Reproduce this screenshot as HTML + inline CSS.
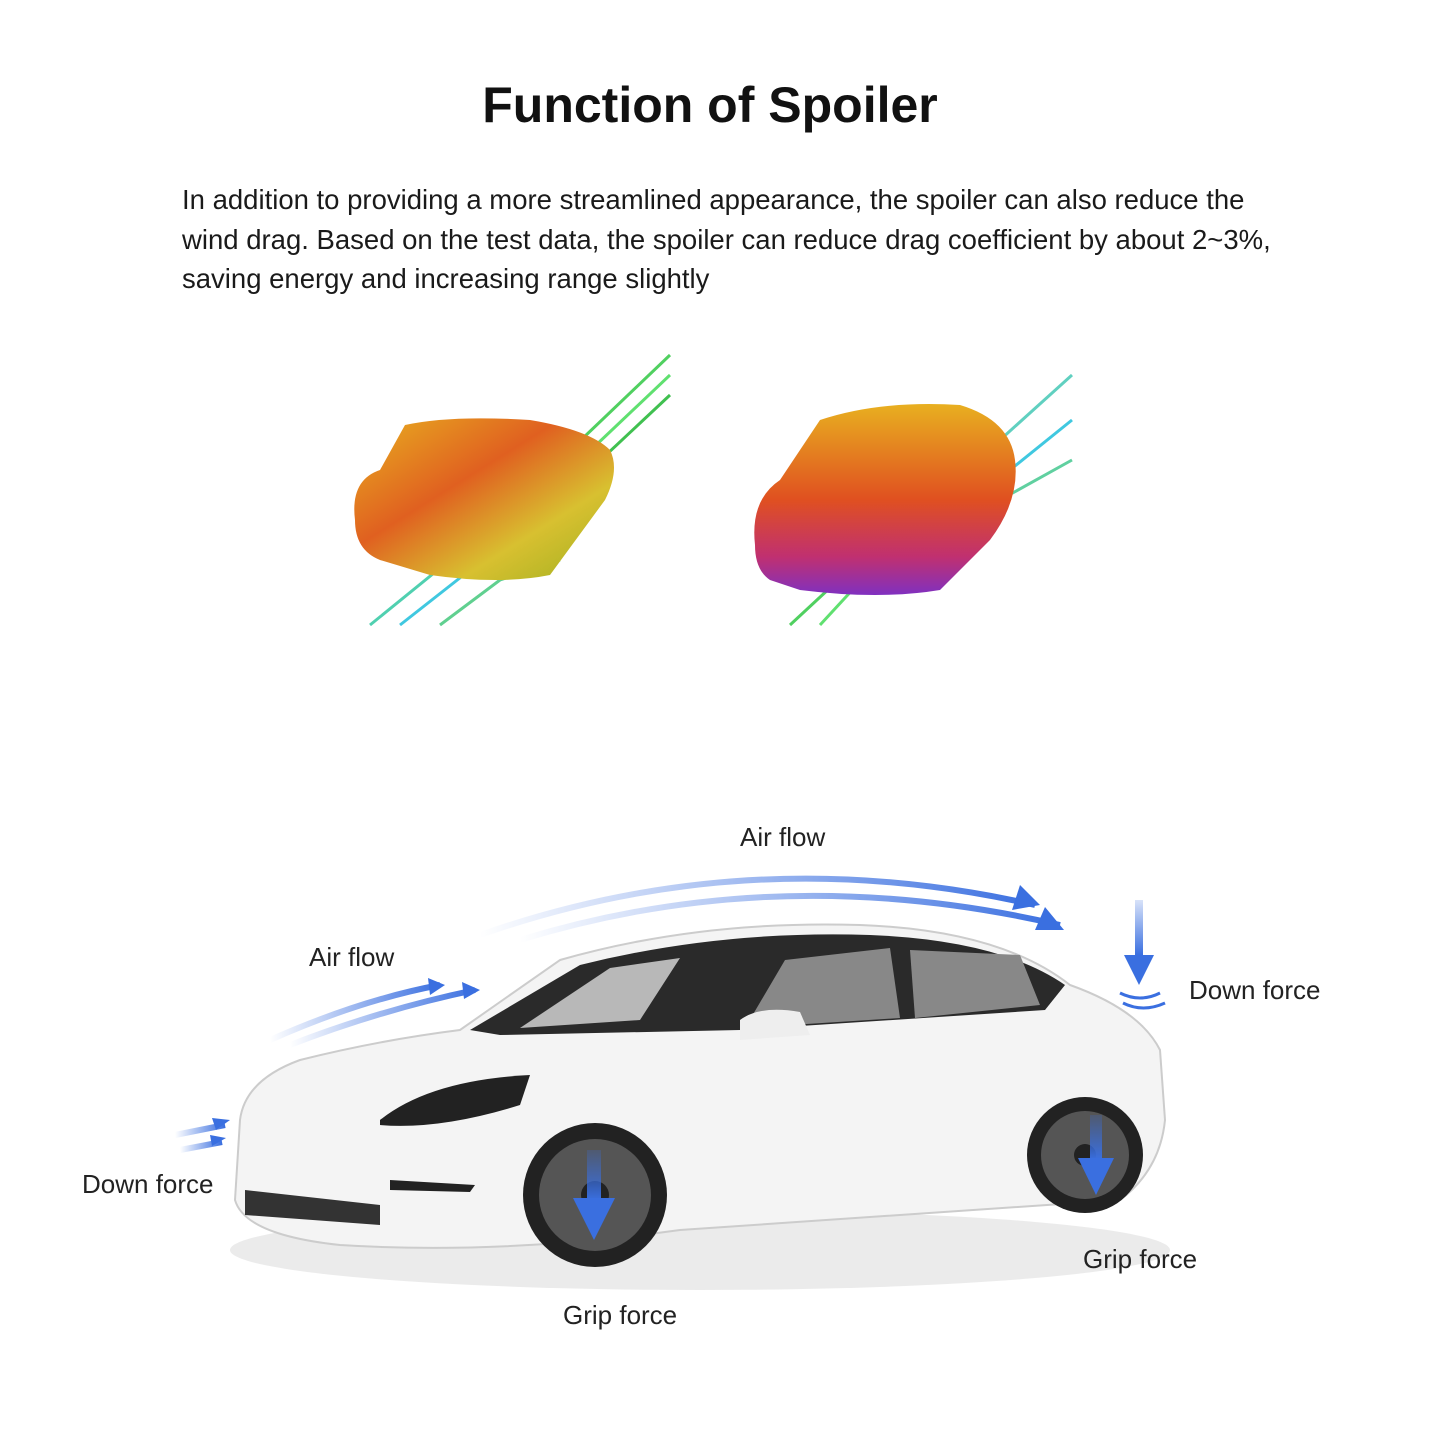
<!DOCTYPE html>
<html><head><meta charset="utf-8"><style>
body{margin:0;background:#fff;width:1445px;height:1445px;overflow:hidden;position:relative;font-family:"Liberation Sans",sans-serif;color:#111}
h1{position:absolute;top:76px;left:0;width:1420px;text-align:center;margin:0;font-size:50px;font-weight:bold}
p{position:absolute;top:180px;left:182px;margin:0;font-size:27.5px;line-height:39.5px;white-space:nowrap;color:#1a1a1a}
.l{position:absolute;font-size:26px;color:#222;white-space:nowrap}
svg{position:absolute;left:0;top:0}
</style></head><body>
<h1>Function of Spoiler</h1>
<p>In addition to providing a more streamlined appearance, the spoiler can also reduce the<br>wind drag. Based on the test data, the spoiler can reduce drag coefficient by about 2~3%,<br>saving energy and increasing range slightly</p>
<svg width="1445" height="1445" viewBox="0 0 1445 1445">
<defs>
<linearGradient id="cf" x1="0" y1="0" x2="1" y2="1"><stop offset="0" stop-color="#e8b020"/><stop offset=".4" stop-color="#e06020"/><stop offset=".7" stop-color="#d8c030"/><stop offset="1" stop-color="#a0b020"/></linearGradient>
<linearGradient id="cf2" x1="0" y1="0" x2="0" y2="1"><stop offset="0" stop-color="#e8b020"/><stop offset=".5" stop-color="#e05020"/><stop offset=".8" stop-color="#c03070"/><stop offset="1" stop-color="#8030c0"/></linearGradient>
<linearGradient id="ar" x1="0" y1="0" x2="1" y2="0"><stop offset="0" stop-color="#3a6fe0" stop-opacity="0"/><stop offset="1" stop-color="#3a6fe0"/></linearGradient>
<linearGradient id="ad" x1="0" y1="0" x2="0" y2="1"><stop offset="0" stop-color="#3a6fe0" stop-opacity=".2"/><stop offset="1" stop-color="#3a6fe0"/></linearGradient>
</defs>
<g stroke-width="3" fill="none">
<path d="M560 460 L670 355" stroke="#50d060"/><path d="M575 465 L670 375" stroke="#60e070"/><path d="M590 470 L670 395" stroke="#40c050"/>
<path d="M370 625 L450 560 L520 540" stroke="#50d0b0"/><path d="M400 625 L470 570 L540 555" stroke="#40c8e0"/><path d="M440 625 L500 580 L560 560" stroke="#60d090"/>
<path d="M790 625 L860 560" stroke="#50d060"/><path d="M820 625 L880 560" stroke="#60e070"/>
<path d="M1000 440 L1072 375" stroke="#60d0c0"/><path d="M1010 470 L1072 420" stroke="#40c8e0"/><path d="M1000 500 L1072 460" stroke="#60d0a0"/>
</g>
<path d="M355 520 Q350 480 380 470 L405 425 Q450 415 530 420 Q590 430 610 450 Q620 470 605 500 L550 575 Q500 585 430 575 L380 560 Q355 550 355 520Z" fill="url(#cf)"/>
<path d="M755 545 Q750 500 780 480 L820 420 Q880 400 960 405 Q1010 420 1015 460 Q1020 500 990 540 L940 590 Q880 600 800 590 L770 580 Q755 570 755 545Z" fill="url(#cf2)"/>
<g fill="none" stroke="url(#ar)" stroke-width="6">
<path d="M480 935 Q750 840 1035 905"/><path d="M520 940 Q780 860 1060 925"/>
<path d="M270 1040 Q360 1000 440 985"/><path d="M290 1045 Q380 1010 475 990"/>
<path d="M175 1135 L225 1125"/><path d="M180 1150 L222 1142"/>
</g>
<g fill="#3a6fe0">
<path d="M1020 885 L1040 905 L1012 910Z"/><path d="M1045 907 L1064 930 L1035 930Z"/>
<path d="M428 978 L445 985 L430 995Z"/><path d="M462 982 L480 990 L464 999Z"/>
<path d="M212 1118 L230 1120 L216 1130Z"/><path d="M210 1135 L226 1138 L212 1146Z"/>
</g>
<rect x="1135" y="900" width="8" height="55" fill="url(#ad)"/><path d="M1124 955 L1154 955 L1139 985Z" fill="#3a6fe0"/>
<path d="M1120 993 Q1140 1003 1160 993 M1123 1003 Q1143 1013 1165 1003" stroke="#3a6fe0" stroke-width="3" fill="none"/>
<ellipse cx="700" cy="1250" rx="470" ry="40" fill="#ddd" opacity=".6"/>
<path d="M240 1120 Q245 1080 300 1060 Q380 1040 460 1030 L560 960 Q700 920 860 925 Q1000 930 1070 985 Q1140 1010 1160 1050 L1165 1120 Q1160 1170 1120 1200 L680 1230 Q500 1255 340 1245 Q245 1235 235 1200Z" fill="#f4f4f4" stroke="#ccc" stroke-width="2"/>
<path d="M470 1030 L580 965 Q720 930 870 935 Q1000 940 1065 985 L1045 1010 L740 1030 L500 1035Z" fill="#2a2a2a"/>
<path d="M520 1028 L610 968 L680 958 L640 1020Z" fill="#b8b8b8"/>
<path d="M745 1028 L785 960 L890 948 L900 1018Z" fill="#888"/><path d="M915 1018 L910 950 L1020 955 L1040 1005Z" fill="#888"/>
<path d="M740 1020 Q760 1005 800 1012 L810 1035 L740 1040Z" fill="#eee"/>
<path d="M380 1120 Q430 1080 530 1075 L520 1105 Q440 1130 380 1125Z" fill="#222"/>
<path d="M245 1190 L380 1205 L380 1225 L245 1215Z" fill="#333"/>
<path d="M390 1180 L475 1185 L470 1192 L390 1190Z" fill="#222"/>
<circle cx="595" cy="1195" r="72" fill="#222"/><circle cx="595" cy="1195" r="56" fill="#555"/><circle cx="595" cy="1195" r="14" fill="#222"/>
<circle cx="1085" cy="1155" r="58" fill="#222"/><circle cx="1085" cy="1155" r="44" fill="#555"/><circle cx="1085" cy="1155" r="11" fill="#222"/>
<rect x="587" y="1150" width="14" height="50" fill="url(#ad)"/><path d="M573 1198 L615 1198 L594 1240Z" fill="#3a6fe0"/>
<rect x="1090" y="1115" width="12" height="45" fill="url(#ad)"/><path d="M1078 1158 L1114 1158 L1096 1195Z" fill="#3a6fe0"/>
</svg>
<div class="l" style="left:740px;top:822px">Air flow</div>
<div class="l" style="left:309px;top:942px">Air flow</div>
<div class="l" style="left:1189px;top:975px">Down force</div>
<div class="l" style="left:82px;top:1169px">Down force</div>
<div class="l" style="left:563px;top:1300px">Grip force</div>
<div class="l" style="left:1083px;top:1244px">Grip force</div>
</body></html>
